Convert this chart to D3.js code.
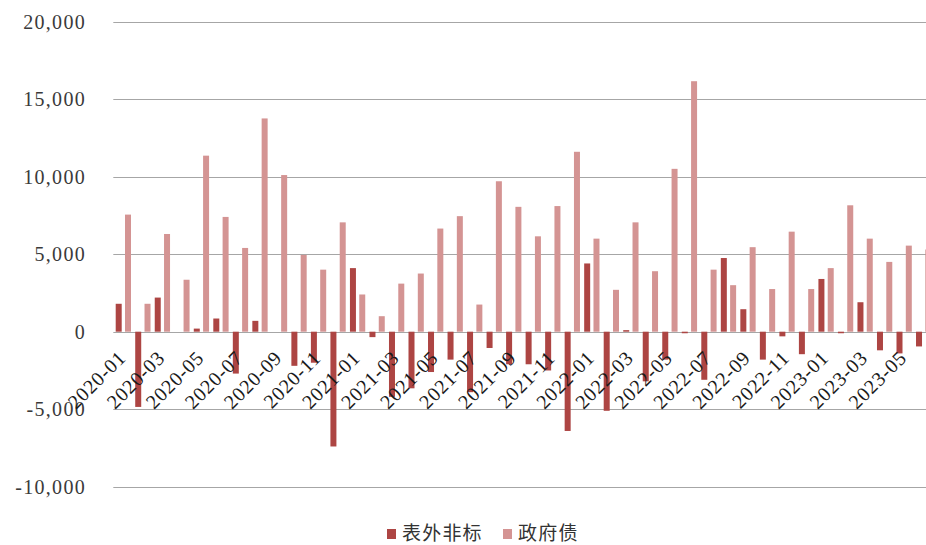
<!DOCTYPE html>
<html>
<head>
<meta charset="utf-8">
<script src="https://cdn.jsdelivr.net/npm/d3@7"></script>
<style>
  html, body { margin: 0; padding: 0; background: #fff; overflow: hidden; }
  svg { display: block; }
</style>
</head>
<body>
<svg id="chart" width="926" height="545"></svg>
<script>
// Monthly categories, 2020-01 .. 2023-06
const months = [
  "2020-01","2020-02","2020-03","2020-04","2020-05","2020-06","2020-07","2020-08","2020-09","2020-10","2020-11","2020-12",
  "2021-01","2021-02","2021-03","2021-04","2021-05","2021-06","2021-07","2021-08","2021-09","2021-10","2021-11","2021-12",
  "2022-01","2022-02","2022-03","2022-04","2022-05","2022-06","2022-07","2022-08","2022-09","2022-10","2022-11","2022-12",
  "2023-01","2023-02","2023-03","2023-04","2023-05","2023-06"
];

// 表外非标
const offBalance = [
  1800, -4850, 2200, 0, 200, 850, -2700, 700, 0, -2200, -2000, -7400,
  4100, -350, -4200, -3650, -2600, -1800, -3900, -1050, -2100, -2100, -2500, -6400,
  4400, -5100, 100, -3200, -1800, -100, -3100, 4750, 1450, -1800, -300, -1450,
  3400, -100, 1900, -1200, -1400, -950
];

// 政府债
const govBonds = [
  7550, 1800, 6300, 3350, 11350, 7400, 5400, 13750, 10100, 4950, 4000, 7050,
  2400, 1000, 3100, 3750, 6650, 7450, 1750, 9700, 8050, 6150, 8100, 11600,
  6000, 2700, 7050, 3900, 10500, 16150, 4000, 3000, 5450, 2750, 6450, 2750,
  4100, 8150, 6000, 4500, 5550, 5300
];

const seriesNames = ["表外非标", "政府债"];
const seriesColors = ["#ad4543", "#d49493"];
const yTicks = [-10000, -5000, 0, 5000, 10000, 15000, 20000];

const svg = d3.select("#chart");
const W = 926;

const plotLeft = 113.3;
const step = 19.52;
const x = d3.scaleBand()
  .domain(months)
  .range([plotLeft, plotLeft + months.length * step])
  .paddingInner(0).paddingOuter(0);

const xSub = d3.scaleBand()
  .domain(seriesNames)
  .range([2.4, 17.7])
  .paddingInner(0.355).paddingOuter(0);

const y = d3.scaleLinear().domain([-10000, 20000]).range([486.8, 21.5]);

const fmt = v => d3.format(",")(v).replace("−", "-");

// gridlines
svg.append("g")
  .selectAll("line")
  .data(yTicks)
  .join("line")
  .attr("x1", plotLeft)
  .attr("x2", W)
  .attr("y1", d => Math.round(y(d)) + 0.5)
  .attr("y2", d => Math.round(y(d)) + 0.5)
  .attr("stroke", "#a6a6a6")
  .attr("stroke-width", 1.2);

// y-axis labels
svg.append("g")
  .selectAll("text")
  .data(yTicks)
  .join("text")
  .attr("x", 86)
  .attr("y", d => y(d) + 7)
  .attr("text-anchor", "end")
  .attr("font-family", "Liberation Serif, serif")
  .attr("font-size", 20)
  .attr("letter-spacing", 1.3)
  .attr("fill", "#3a3a3a")
  .text(fmt);

// bars
const seriesData = [offBalance, govBonds];
seriesNames.forEach((name, si) => {
  svg.append("g")
    .selectAll("rect")
    .data(months.map((m, i) => ({ m, v: seriesData[si][i] })))
    .join("rect")
    .attr("x", d => x(d.m) + xSub(name))
    .attr("width", xSub.bandwidth())
    .attr("y", d => y(Math.max(0, d.v)))
    .attr("height", d => Math.abs(y(d.v) - y(0)))
    .attr("fill", seriesColors[si]);
});

// x-axis labels (every other month), rotated
svg.append("g")
  .selectAll("text")
  .data(months.filter((m, i) => i % 2 === 0))
  .join("text")
  .attr("transform", d => `translate(${x(d) + x.bandwidth() / 2 + 4},${359}) rotate(-45)`)
  .attr("text-anchor", "end")
  .attr("font-family", "Liberation Serif, serif")
  .attr("font-size", 20)
  .attr("letter-spacing", 0.8)
  .attr("fill", "#1a1a1a")
  .text(d => d);

// legend
const legend = svg.append("g");
const legendItems = [
  { name: seriesNames[0], color: seriesColors[0], sx: 387, tx: 402 },
  { name: seriesNames[1], color: seriesColors[1], sx: 503, tx: 518 }
];
legendItems.forEach(it => {
  legend.append("rect")
    .attr("x", it.sx).attr("y", 529)
    .attr("width", 9).attr("height", 10)
    .attr("fill", it.color);
  legend.append("text")
    .attr("x", it.tx).attr("y", 540)
    .attr("font-family", "Noto Sans CJK SC, sans-serif")
    .attr("font-size", 19)
    .attr("letter-spacing", 1.2)
    .attr("fill", "#333")
    .text(it.name);
});
</script>
</body>
</html>
